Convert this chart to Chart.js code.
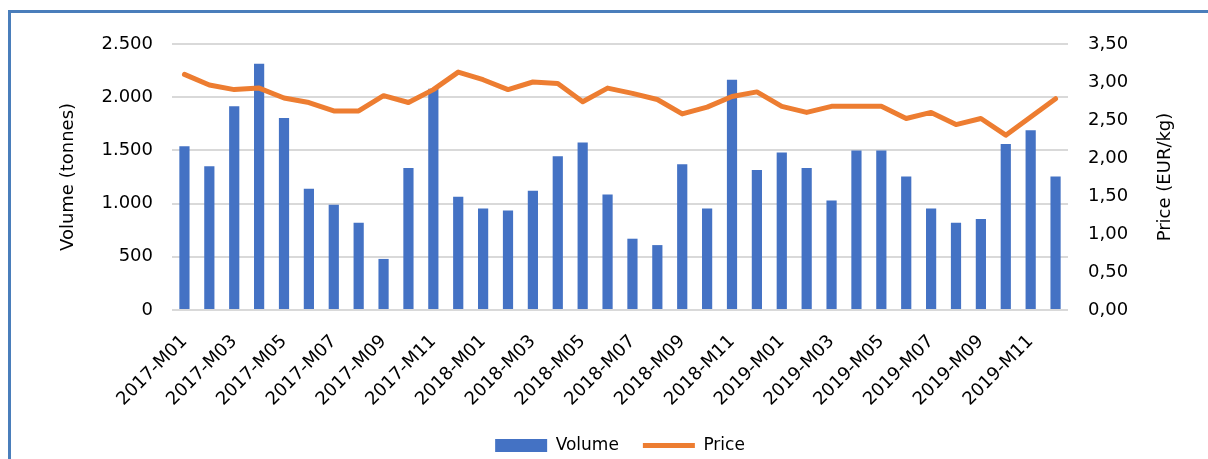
<!DOCTYPE html>
<html>
<head>
<meta charset="utf-8">
<script src="https://cdn.jsdelivr.net/npm/chart.js@4"></script>
<style>
  html, body { margin: 0; padding: 0; background: #fff; }
  #wrap { position: relative; width: 1208px; height: 459px; overflow: hidden; }
  #frame { position: absolute; left: 8px; top: 10px; width: 1200px; height: 449px;
           border-left: 3px solid #4A7EBB; border-top: 3px solid #4A7EBB; box-sizing: border-box; }
  #c { position: absolute; left: 0; top: 0; }
</style>
</head>
<body>
<div id="wrap">
  <div id="frame"></div>
  <canvas id="c" width="1208" height="459"></canvas>
</div>
<script>
// months 2017-M01 .. 2019-M12
var months = [
  '2017-M01','2017-M02','2017-M03','2017-M04','2017-M05','2017-M06','2017-M07','2017-M08','2017-M09','2017-M10','2017-M11','2017-M12',
  '2018-M01','2018-M02','2018-M03','2018-M04','2018-M05','2018-M06','2018-M07','2018-M08','2018-M09','2018-M10','2018-M11','2018-M12',
  '2019-M01','2019-M02','2019-M03','2019-M04','2019-M05','2019-M06','2019-M07','2019-M08','2019-M09','2019-M10','2019-M11','2019-M12'
];

// volume in tonnes
var volume = [
  1540, 1350, 1915, 2315, 1805, 1140, 990, 820, 480, 1335, 2080, 1065,
  955, 935, 1120, 1445, 1575, 1085, 670, 610, 1370, 955, 2165, 1315,
  1480, 1335, 1030, 1500, 1500, 1255, 955, 820, 855, 1560, 1690, 1255
];

// price EUR/kg
var price = [
  3.10, 2.96, 2.90, 2.92, 2.79, 2.73, 2.62, 2.62, 2.82, 2.73, 2.90, 3.13,
  3.03, 2.90, 3.00, 2.98, 2.74, 2.92, 2.85, 2.77, 2.58, 2.67, 2.81, 2.87,
  2.68, 2.60, 2.68, 2.68, 2.68, 2.52, 2.60, 2.44, 2.52, 2.30, 2.54, 2.78
];

var volumeTicks = [0, 500, 1000, 1500, 2000, 2500];
var priceTicks = [0, 0.5, 1, 1.5, 2, 2.5, 3, 3.5];

var FONT = 'DejaVu Sans';

// right axis title reads bottom-to-top like the left one
var rightTitle = {
  id: 'rightTitle',
  afterDraw: function(chart) {
    var ctx = chart.ctx;
    var area = chart.chartArea;
    ctx.save();
    ctx.translate(1165, (area.top + area.bottom) / 2);
    ctx.rotate(-Math.PI / 2);
    ctx.font = '18px "' + FONT + '"';
    ctx.fillStyle = '#000';
    ctx.textAlign = 'center';
    ctx.textBaseline = 'middle';
    ctx.fillText('Price (EUR/kg)', 0, 0);
    ctx.restore();
  }
};

var ctx = document.getElementById('c').getContext('2d');
var chart = new Chart(ctx, {
  type: 'bar',
  data: {
    labels: months,
    datasets: [{
      type: 'bar',
      label: 'Volume',
      data: volume,
      yAxisID: 'y',
      backgroundColor: '#4472C4',
      borderWidth: 0,
      barPercentage: 0.41,
      categoryPercentage: 1,
      pointStyle: 'rect',
      order: 1
    }, {
      type: 'line',
      label: 'Price',
      data: price,
      yAxisID: 'y1',
      borderColor: '#ED7D31',
      backgroundColor: '#ED7D31',
      borderWidth: 5,
      borderCapStyle: 'round',
      borderJoinStyle: 'round',
      pointRadius: 0,
      tension: 0,
      pointStyle: 'line',
      order: 0
    }]
  },
  options: {
    responsive: false,
    animation: false,
    layout: { padding: { left: 40, right: 8, top: 44, bottom: -5 } },
    plugins: {
      tooltip: { enabled: false },
      legend: {
        position: 'bottom',
        labels: {
          usePointStyle: true,
          pointStyleWidth: 52,
          boxHeight: 13,
          padding: 24,
          color: '#000',
          font: { family: FONT, size: 17 },
          sort: function(a, b) { return a.datasetIndex - b.datasetIndex; }
        }
      }
    },
    scales: {
      x: {
        grid: { display: false },
        border: { display: false },
        afterFit: function(s) { s.height = 103; },
        ticks: {
          autoSkip: false,
          minRotation: 45,
          maxRotation: 45,
          padding: 13,
          color: '#000',
          font: { family: FONT, size: 18 },
          callback: function(v, i) { return i % 2 === 0 ? months[i] : ''; }
        }
      },
      y: {
        position: 'left',
        min: 0,
        max: 2500,
        afterBuildTicks: function(s) { s.ticks = volumeTicks.map(function(v) { return { value: v }; }); },
        afterFit: function(s) { s.width = 132; },
        grid: { color: '#D9D9D9', lineWidth: 2, drawTicks: false },
        border: { display: false },
        ticks: {
          padding: 19,
          color: '#000',
          font: { family: FONT, size: 18 },
          callback: function(v) { return v.toLocaleString('de-DE'); }
        },
        title: {
          display: true,
          text: 'Volume (tonnes)',
          color: '#000',
          font: { family: FONT, size: 18 },
          padding: { top: 18 }
        }
      },
      y1: {
        position: 'right',
        min: 0,
        max: 3.5,
        afterBuildTicks: function(s) { s.ticks = priceTicks.map(function(v) { return { value: v }; }); },
        afterFit: function(s) { s.width = 132; },
        grid: { display: false, drawTicks: false },
        border: { display: false },
        ticks: {
          padding: 20,
          color: '#000',
          font: { family: FONT, size: 18 },
          callback: function(v) { return v.toFixed(2).replace('.', ','); }
        }
      }
    }
  },
  plugins: [rightTitle]
});
</script>
</body>
</html>
